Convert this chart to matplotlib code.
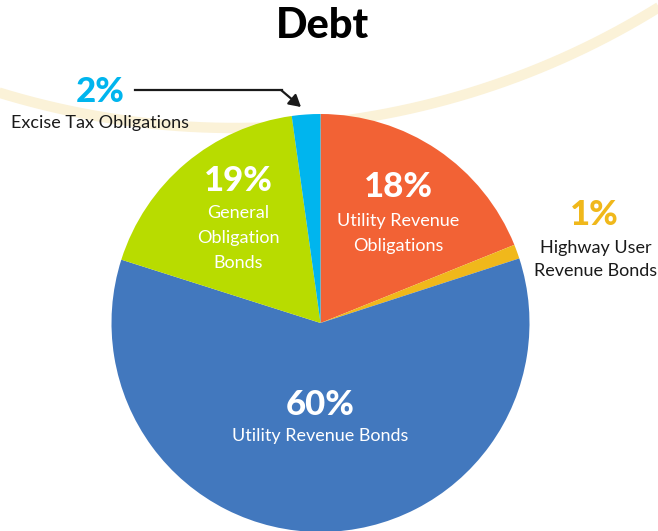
import numpy as np
import matplotlib
matplotlib.use("Agg")
import matplotlib.pyplot as plt

# slices, clockwise from the top (slice sizes, labels as printed)
labels = ["Utility Revenue\nObligations", "Highway User\nRevenue Bonds",
          "Utility Revenue Bonds", "General\nObligation\nBonds", "Excise Tax Obligations"]
shares = [18.9, 1.1, 59.9, 17.9, 2.2]
pct_text = ["18%", "1%", "60%", "19%", "2%"]
colors = ["#F26235", "#F0B81B", "#4278BE", "#B8DC00", "#00B5EE"]

W, H = 658, 531
fig = plt.figure(figsize=(W / 100, H / 100), dpi=100)
ax = fig.add_axes([0, 0, 1, 1])

# cream background arc
t = np.linspace(np.radians(240), np.radians(310), 400)
ax.plot(235 + 804 * np.cos(t), (H + 676) + 804 * np.sin(t),
        color="#FBF2D8", lw=7.5, solid_capstyle="butt", zorder=0)

ax.pie(shares, colors=colors, startangle=90, counterclock=False,
       center=(320.5, H - 323), radius=209, frame=True,
       wedgeprops=dict(linewidth=0))
ax.set_xlim(0, W)
ax.set_ylim(0, H)
ax.set_aspect("equal")
ax.axis("off")

pct = dict(family="Lato", weight="black", ha="center", va="center", fontsize=25)
lab = dict(family="Lato", weight="normal", ha="center", va="center", fontsize=13,
           linespacing=1.7)

ax.text(322, H - 26, "Debt", family="Lato", weight="black", fontsize=30,
        ha="center", va="center", color="black")

# excise
ax.text(100, H - 92, pct_text[4], color=colors[4], **pct)
ax.text(100, H - 123, labels[4], color="#1a1a1a", **lab)
ax.plot([135, 282], [H - 90, H - 90], color="#1a1a1a", lw=1.6)
ax.annotate("", xy=(301, H - 107), xytext=(281, H - 90),
            arrowprops=dict(arrowstyle="-|>,head_length=0.7,head_width=0.4",
                            color="#1a1a1a", lw=1.6, shrinkA=0, shrinkB=0))

# general obligation
ax.text(238, H - 181, pct_text[3], color="white", **pct)
ax.text(238, H - 238, labels[3], color="white", **lab)

# utility revenue obligations
ax.text(398, H - 187, pct_text[0], color="white", **pct)
ax.text(398, H - 233.5, labels[0], color="white", **lab)

# highway user
ax.text(594, H - 215, pct_text[1], color=colors[1], **pct)
ax.text(596, H - 259.5, labels[1], color="#1a1a1a",
        **{**lab, "linespacing": 1.55})

# utility revenue bonds
ax.text(320, H - 405, pct_text[2], color="white", **pct)
ax.text(320, H - 436, labels[2], color="white", **lab)

fig.savefig("out.png", dpi=100)
